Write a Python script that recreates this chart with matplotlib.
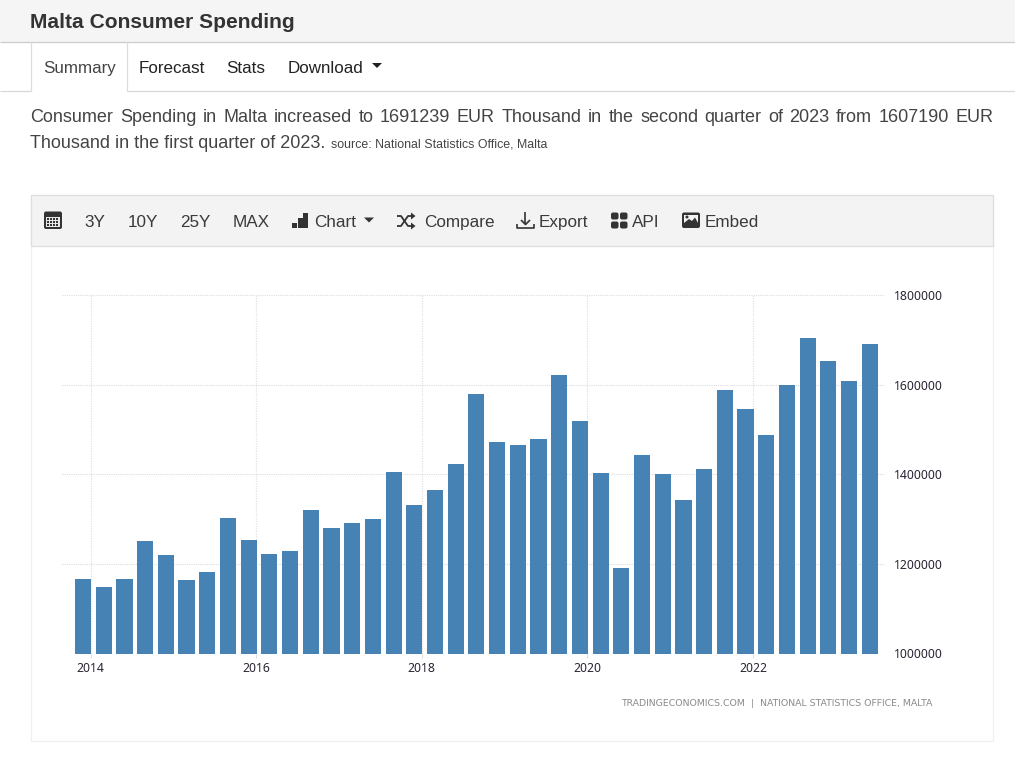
import matplotlib
matplotlib.use("Agg")
import matplotlib.pyplot as plt
from matplotlib.patches import Rectangle, FancyBboxPatch, Polygon, Circle

# ---------- data ----------
first_position = 2013.91
quarter_step = 0.25
values = [1166, 1148, 1166, 1251, 1220, 1164, 1182, 1302, 1253, 1222,
          1229, 1320, 1280, 1291, 1300, 1405, 1331, 1365, 1423, 1579,
          1472, 1465, 1478, 1621, 1519, 1403, 1191, 1443, 1400, 1343,
          1412, 1588, 1546, 1488, 1599, 1704, 1653, 1607.19, 1691.239]
values = [v * 1000 for v in values]
year_ticks = [2014, 2016, 2018, 2020, 2022]
value_ticks = [1000000, 1200000, 1400000, 1600000, 1800000]
title = "Malta Consumer Spending"
tabs = ["Summary", "Forecast", "Stats", "Download"]
para1 = "Consumer Spending in Malta increased to 1691239 EUR Thousand in the second quarter of 2023 from 1607190 EUR"
para2 = "Thousand in the first quarter of 2023."
source = "source: National Statistics Office, Malta"
credit = "TRADINGECONOMICS.COM  |  NATIONAL STATISTICS OFFICE, MALTA"

W, H = 1015, 780
SANS = "Liberation Sans"
DARK = "#333333"
fig = plt.figure(figsize=(W / 100, H / 100), dpi=100, facecolor="white")

# ---------- page furniture, in pixel coordinates ----------
ui = fig.add_axes([0, 0, 1, 1], zorder=0)
ui.set_xlim(0, W); ui.set_ylim(H, 0); ui.axis("off")

def rect(x, y, w, h, fc="none", ec="none", lw=1, z=1):
    ui.add_patch(Rectangle((x, y), w, h, fc=fc, ec=ec, lw=lw, zorder=z))

def line(xs, ys, c="#d0d0d0", lw=1, z=2):
    ui.plot(xs, ys, color=c, lw=lw, zorder=z, solid_capstyle="butt")

def txt(x, y, s, size, **kw):
    kw.setdefault("color", DARK)
    kw.setdefault("family", SANS)
    kw.setdefault("va", "baseline")
    return ui.text(x, y, s, fontsize=size * 0.72, **kw)

# header band and tabs
rect(0, 0, W, 42, fc="#f5f5f5")
line([0, W], [42.2, 42.2], "#cccccc", 0.9)
txt(30.5, 28, title, 21, weight="bold")
line([0, 31.5], [91, 91], "#d8d8d8", 0.9)
line([127, W], [91, 91], "#d8d8d8", 0.9)
line([31.3, 31.3], [42, 91], "#dddddd", 0.9)
line([127, 127], [42, 91], "#dddddd", 0.9)
tab_x = [43, 138.5, 226.5, 288]
for i, (s, x) in enumerate(zip(tabs, tab_x)):
    txt(x, 73, s, 17, color="#444444" if i == 0 else "#222222")
ui.add_patch(Polygon([(372, 63), (382, 63), (377, 68)], fc="#222222", ec="none", zorder=3))

# justified first paragraph line
fig.canvas.draw()
rend = fig.canvas.get_renderer()
words = para1.split(" ")
wts = [txt(0, 122.5, w, 18, color="#444444") for w in words]
widths = [t.get_window_extent(rend).width for t in wts]
left, right = 30.5, 993.5
gap = (right - left - sum(widths)) / (len(words) - 1)
x = left
for t, w in zip(wts, widths):
    t.set_x(x)
    x += w + gap
txt(30.5, 147.5, para2, 18, color="#444444")
txt(331, 147.5, source, 12.4, color="#444444")

# chart card and toolbar
rect(31.3, 195, 962, 545.5, fc="white", ec="#f0f0f0", lw=0.9)
rect(31.3, 195, 962, 51.3, fc="#f3f3f3", ec="#dedede", lw=0.9)
TB = 227
for s, x in [("3Y", 84), ("10Y", 127.5), ("25Y", 180), ("MAX", 232.5),
             ("Chart", 314.5), ("Compare", 424), ("Export", 539), ("API", 632), ("Embed", 704.5)]:
    txt(x, TB, s, 17.1, color="#3a3a3a")

ICON = "#333333"
# calendar icon
ui.add_patch(FancyBboxPatch((44, 211.5), 18, 17.5, boxstyle="round,pad=0,rounding_size=2",
                            fc=ICON, ec="none", zorder=3))
rect(46, 216.5, 14, 10.5, fc="#e8e8e8", z=4)
for r in range(3):
    for c in range(4):
        rect(47.5 + c * 3, 217.6 + r * 3, 2, 2, fc=ICON, z=5)
# bar-chart icon
for x0, top in [(292.5, 223), (298, 218), (303.5, 212.5)]:
    rect(x0, top, 4.7, 228 - top, fc=ICON, z=3)
ui.add_patch(Polygon([(364, 217.5), (374, 217.5), (369, 222.5)], fc=ICON, ec="none", zorder=3))
# shuffle icon
line([397, 401, 408, 412], [226, 226, 216, 216], ICON, 1.3, 3)
line([397, 401, 408, 412], [216, 216, 226, 226], ICON, 1.3, 3)
ui.add_patch(Polygon([(411, 212.5), (415.5, 216), (411, 219.5)], fc=ICON, ec="none", zorder=3))
ui.add_patch(Polygon([(411, 222.5), (415.5, 226), (411, 229.5)], fc=ICON, ec="none", zorder=3))
# download icon
line([525.5, 525.5], [212, 224], ICON, 1.2, 3)
line([521, 525.5, 530], [220, 224.5, 220], ICON, 1.2, 3)
line([516.7, 516.7, 534.3, 534.3], [224, 227.7, 227.7, 224], ICON, 1.2, 3)
# grid (API) icon
for gx in (611, 620):
    for gy in (212.5, 221.5):
        ui.add_patch(FancyBboxPatch((gx, gy), 7.5, 7, boxstyle="round,pad=0,rounding_size=2",
                                    fc=ICON, ec="none", zorder=3))
# image (Embed) icon
ui.add_patch(FancyBboxPatch((682, 212.5), 18, 15.5, boxstyle="round,pad=0,rounding_size=2",
                            fc=ICON, ec="none", zorder=3))
rect(684, 214.5, 14, 8, fc="#f3f3f3", z=4)
ui.add_patch(Circle((687, 217), 1.5, fc=ICON, ec="none", zorder=5))
ui.add_patch(Polygon([(684, 223), (689, 219), (692, 221), (695, 217.5), (698, 223)],
                     fc=ICON, ec="none", zorder=5))

# ---------- the chart ----------
PX_LEFT, PX_RIGHT, PX_TOP, PX_BOTTOM = 62, 885, 295, 653.5
PX_PER_YEAR = (753 - 90.5) / 8
ax = fig.add_axes([PX_LEFT / W, 1 - PX_BOTTOM / H,
                   (PX_RIGHT - PX_LEFT) / W, (PX_BOTTOM - PX_TOP) / H], zorder=1)
ax.patch.set_alpha(0)
ax.set_xlim(2014 + (PX_LEFT - 90.5) / PX_PER_YEAR, 2014 + (PX_RIGHT - 90.5) / PX_PER_YEAR)
ax.set_ylim(1000000, 1800000)

positions = [first_position + quarter_step * i for i in range(len(values))]
ax.bar(positions, values, width=0.195, color="#4682b4", linewidth=0, zorder=3)

ax.set_yticks(value_ticks)
ax.set_xticks(year_ticks)
ax.yaxis.tick_right()
ax.set_yticklabels([str(v) for v in value_ticks])
ax.set_xticklabels([str(v) for v in year_ticks])
ax.tick_params(axis="y", length=0, pad=6.7, labelsize=8.8, labelcolor="#2b2433")
ax.tick_params(axis="x", length=3, width=0.8, color="#dddddd", pad=3.3, labelsize=8.8, labelcolor="#2b2433")
for lab in ax.get_xticklabels() + ax.get_yticklabels():
    lab.set_family("Noto Sans")
ax.grid(axis="y", color="#dcdcdc", lw=0.8, ls=(0, (1, 1)), zorder=1)
ax.grid(axis="x", color="#e2e2e2", lw=0.9, ls=(0, (1, 1)), zorder=1)
for s in ax.spines.values():
    s.set_visible(False)

txt(932, 706, credit, 9.35, color="#8a8a8a", ha="right", family="DejaVu Sans")

fig.savefig("out.png", dpi=100, facecolor="white")
